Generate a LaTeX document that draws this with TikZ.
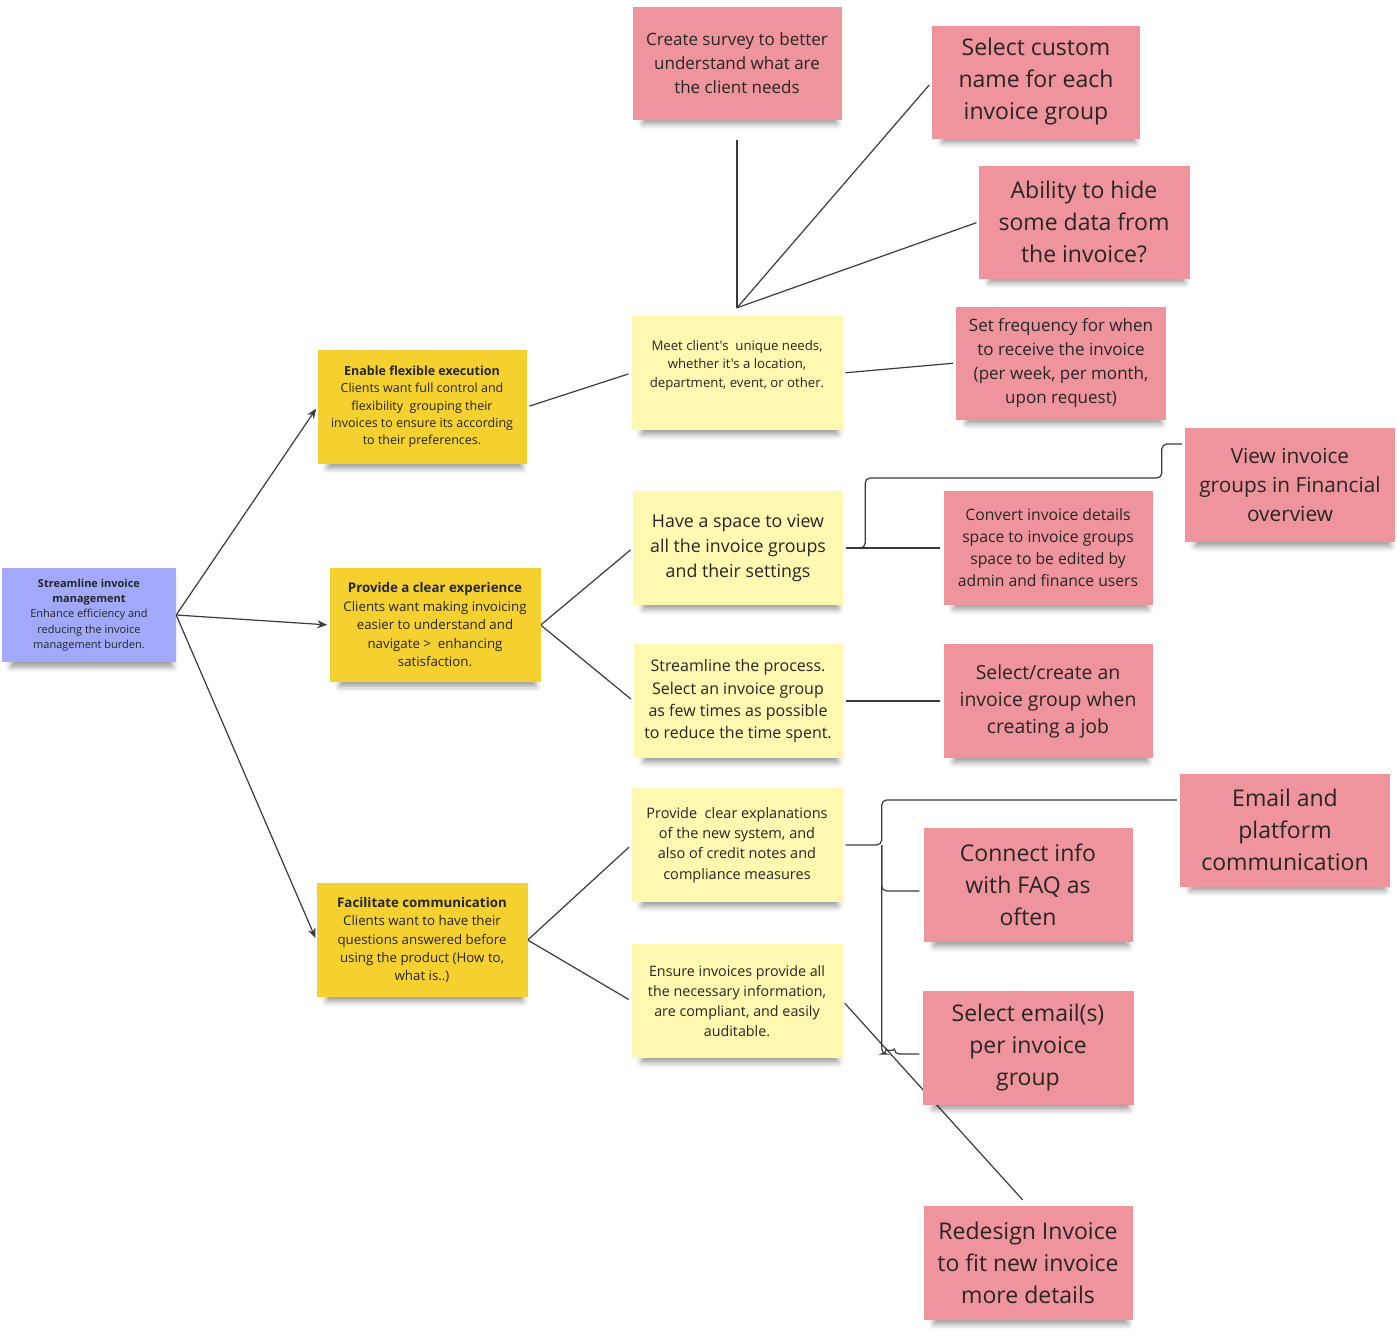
\documentclass[tikz,border=0pt]{standalone}
\usepackage{fontspec}
\setmainfont{Open Sans}[Ligatures=TeXOff]
\usetikzlibrary{arrows.meta,calc,shadows.blur,backgrounds}
\definecolor{noteBlue}{HTML}{A2A9FA}
\definecolor{noteGold}{HTML}{F5D130}
\definecolor{noteCream}{HTML}{FFF8B0}
\definecolor{notePink}{HTML}{EF939C}
\definecolor{inkGray}{HTML}{3A3A3A}
\newcommand{\notefont}[2]{\fontsize{#1}{#2}\selectfont}

\begin{document}
\begin{tikzpicture}[
    x=1pt, y=-1pt,
    note/.style={
        rectangle,
        inner sep=0pt,
        align=center,
        text=black!85,
        minimum width=209pt,
        minimum height=114pt,
        blur shadow={shadow xshift=3pt, shadow yshift=-9pt, shadow scale=0.93,
                     shadow blur radius=6pt, shadow opacity=40}
    },
    bluenote/.style={note, fill=noteBlue, minimum width=174pt, minimum height=94pt},
    goldnote/.style={note, fill=noteGold},
    creamnote/.style={note, fill=noteCream},
    pinknote/.style={note, fill=notePink},
    link/.style={
        draw=inkGray,
        line width=1.2pt
    },
    arrow/.style={
        link,
        -{Stealth[length=10pt,width=8pt]},
        shorten >=2pt
    }
]
\useasboundingbox (0,0) rectangle (1397,1339);

% goals
\node[bluenote, font=\notefont{11}{15.3}] (root) at (89,615)
    {\textbf{Streamline invoice}\\\textbf{management}\\Enhance efficiency and\\reducing the invoice\\management burden.};

\node[goldnote, font=\notefont{12.5}{17.3}] (flex) at (422,407)
    {\textbf{Enable flexible execution}\\Clients want full control and\\flexibility\ \ grouping their\\invoices to ensure its according\\to their preferences.};
\node[goldnote, minimum width=211pt, font=\notefont{13.3}{18.5}] (clear) at (435,625)
    {\textbf{Provide a clear experience}\\Clients want making invoicing\\easier to understand and\\navigate >\ \ enhancing\\satisfaction.};
\node[goldnote, minimum width=211pt, font=\notefont{13.3}{18.4}] (comm) at (422,940)
    {\textbf{Facilitate communication}\\Clients want to have their\\questions answered before\\using the product (How to,\\what is..)};

% needs
\node[creamnote, minimum width=211pt, font=\notefont{13.2}{18.5}] (needs) at (737,373)
    {Meet client's\ \ unique needs,\\whether it's a location,\\department, event, or other.\\[0pt]\mbox{}};
\node[creamnote, minimum width=210pt, font=\notefont{17.8}{25}] (space) at (738,548)
    {Have a space to view\\all the invoice groups\\and their settings};
\node[creamnote, font=\notefont{16}{22.3}] (stream) at (738,701)
    {Streamline the process.\\Select an invoice group\\as few times as possible\\to reduce the time spent.};
\node[creamnote, minimum width=211pt, font=\notefont{14.5}{20.3}] (explain) at (737,845)
    {Provide\ \ clear explanations\\of the new system, and\\also of credit notes and\\compliance measures};
\node[creamnote, minimum width=211pt, font=\notefont{14.3}{20}] (ensure) at (737,1001)
    {Ensure invoices provide all\\the necessary information,\\are compliant, and easily\\auditable.};

% ideas
\node[pinknote, minimum height=113pt, font=\notefont{17}{24}] (survey) at (737,63)
    {Create survey to better\\understand what are\\the client needs};
\node[pinknote, minimum width=208pt, minimum height=113pt, font=\notefont{23}{32}] (custname) at (1036,82)
    {Select custom\\name for each\\invoice group};
\node[pinknote, minimum width=211pt, minimum height=113pt, font=\notefont{23}{32}] (hide) at (1084,222)
    {Ability to hide\\some data from\\the invoice?};
\node[pinknote, minimum width=210pt, minimum height=113pt, font=\notefont{17}{24}] (freq) at (1061,363)
    {Set frequency for when\\to receive the invoice\\(per week, per month,\\upon request)};
\node[pinknote, minimum width=210pt, font=\notefont{20.8}{29}] (finview) at (1290,485)
    {View invoice\\groups in Financial\\overview};
\node[pinknote, font=\notefont{15.7}{22}] (convert) at (1048,548)
    {Convert invoice details\\space to invoice groups\\space to be edited by\\admin and finance users};
\node[pinknote, font=\notefont{19.4}{27}] (selcreate) at (1048,701)
    {Select/create an\\invoice group when\\creating a job};
\node[pinknote, minimum width=210pt, minimum height=113pt, font=\notefont{23}{32}] (emailcomm) at (1285,830)
    {Email and\\platform\\communication};
\node[pinknote, font=\notefont{23}{32}] (faq) at (1028,885)
    {Connect info\\with FAQ as\\often};
\node[pinknote, minimum width=211pt, font=\notefont{23}{32}] (selemail) at (1028,1048)
    {Select email(s)\\per invoice\\group};
\node[pinknote, font=\notefont{23}{32}] (redesign) at (1028,1263)
    {Redesign Invoice\\to fit new invoice\\more details};

\begin{scope}[on background layer]
\draw[arrow] (root.east) -- (flex.west);
\draw[arrow] (root.east) -- (clear.west);
\draw[arrow] (root.east) -- (comm.west);

\draw[link, shorten <=3pt, shorten >=3pt] (flex.east) -- (needs.west);
\coordinate (hub) at ($(needs.north)+(0,-8)$);
\draw[link, shorten >=20pt] (hub) -- (survey.south);
\draw[link, shorten >=4pt] (hub) -- (custname.west);
\draw[link, shorten >=2pt] (hub) -- (hide.west);
\draw[link, shorten <=3pt, shorten >=3pt] (needs.east) -- (freq.west);

\draw[link, shorten >=3pt] (clear.east) -- (space.west);
\draw[link, shorten >=3pt] (clear.east) -- (stream.west);
\draw[link, shorten <=3pt, shorten >=3pt] (space.east) -- (convert.west);
\draw[link, rounded corners=5pt] ($(space.east)+(3,0)$) -- ++(19,0)
    |- ($(finview.west)+(-23,-7)$) |- ($(finview.west)+(-3,-41)$);
\draw[link, shorten <=3pt, shorten >=3pt] (stream.east) -- (selcreate.west);

\draw[link, shorten >=3pt] (comm.east) -- (explain.west);
\draw[link, shorten >=3pt] (comm.east) -- (ensure.west);
\coordinate (brace) at ($(explain.east)+(39,0)$);
\draw[link, rounded corners=5pt] ($(explain.east)+(3,0)$) -- (brace) |- ($(emailcomm.west)+(-3,-30)$);
\draw[link, rounded corners=5pt] (brace) |- ($(faq.west)+(-4,6)$);
\draw[link, rounded corners=5pt] (brace) |- ($(selemail.west)+(-36,6)$)
    to[out=90,in=90] ++(8,0) -- ($(selemail.west)+(-3,6)$);
\draw[link, shorten <=3pt, shorten >=8pt] (ensure.east) -- (redesign.north);
\end{scope}
\end{tikzpicture}
\end{document}
